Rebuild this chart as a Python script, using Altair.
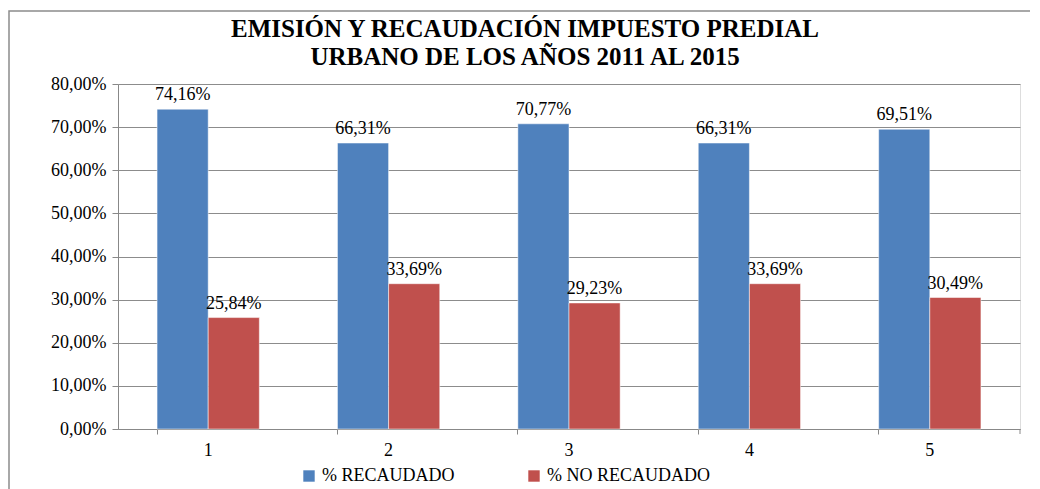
import altair as alt
import pandas as pd

categories = ["1", "2", "3", "4", "5"]
series = ["% RECAUDADO", "% NO RECAUDADO"]
recaudado = [74.16, 66.31, 70.77, 66.31, 69.51]
no_recaudado = [25.84, 33.69, 29.23, 33.69, 30.49]
colors = ["#4F81BD", "#C0504D"]
y_ticks = [0, 10, 20, 30, 40, 50, 60, 70, 80]
title_line1 = "EMISIÓN Y RECAUDACIÓN IMPUESTO PREDIAL"
title_line2 = "URBANO DE LOS AÑOS 2011 AL 2015"

rows = []
for i, c in enumerate(categories):
    for s, vals in zip(series, [recaudado, no_recaudado]):
        v = vals[i]
        rows.append({"cat": c, "serie": s, "val": v,
                     "lbl": f"{v:.2f}%".replace(".", ",")})
df = pd.DataFrame(rows)

FONT = "Liberation Serif, DejaVu Serif, serif"
W, H = 902, 345

xenc = alt.X("cat:N", sort=categories, title=None,
             scale=alt.Scale(paddingInner=0.433, paddingOuter=0.2165),
             axis=alt.Axis(labelAngle=0, labelFont=FONT, labelFontSize=18,
                           labelColor="#000", labelPadding=7, bandPosition=0,
                           tickColor="#888", tickSize=5, domainColor="#888",
                           grid=False))
xoff = alt.XOffset("serie:N", sort=series)
yenc = alt.Y("val:Q", title=None,
             scale=alt.Scale(domain=[0, 80], nice=False),
             axis=alt.Axis(values=y_ticks, labelFont=FONT, labelFontSize=18,
                           labelColor="#000", labelPadding=6,
                           labelExpr="replace(format(datum.value, '.2f'), '.', ',') + '%'",
                           tickColor="#888", tickSize=6, domainColor="#888",
                           gridColor="#8c8c8c", gridWidth=1))

bars = alt.Chart(df).mark_bar(stroke="white", strokeWidth=0.5).encode(
    x=xenc, xOffset=xoff, y=yenc,
    color=alt.Color("serie:N", sort=series,
                    scale=alt.Scale(domain=series, range=colors),
                    legend=alt.Legend(title=None, orient="none", direction="horizontal",
                                      legendX=182, legendY=383,
                                      labelFont=FONT, labelFontSize=18,
                                      labelColor="#000", symbolType="square",
                                      symbolSize=130, symbolStrokeWidth=0,
                                      columnPadding=70, labelLimit=300)),
)

labels = alt.Chart(df).mark_text(font=FONT, fontSize=18, baseline="alphabetic",
                                 dy=-9, color="#000").encode(
    x=xenc, xOffset=xoff, y=yenc, text="lbl:N")

one = pd.DataFrame({"v": [0]})

end_tick = alt.Chart(one).mark_rule(color="#888").encode(
    x=alt.value(W), y=alt.value(H), y2=alt.value(H + 5))

frame = alt.Chart(one).mark_rect(
    fill=None, stroke="#8c8c8c", strokeWidth=1.5).encode(
    x=alt.value(-109), x2=alt.value(930), y=alt.value(-73), y2=alt.value(412))

def title_text(txt, ypos):
    return alt.Chart(one).mark_text(
        text=txt, font=FONT, fontSize=25, fontWeight="bold",
        color="#000", align="center", baseline="alphabetic").encode(
        x=alt.value(407), y=alt.value(ypos))

t1 = title_text(title_line1, -47)
t2 = title_text(title_line2, -19)

chart = alt.layer(frame, bars, labels, end_tick, t1, t2).properties(
    width=W, height=H,
    autosize=alt.AutoSizeParams(type="none"),
    padding={"left": 110, "top": 76, "right": 10, "bottom": 60},
).configure_view(stroke=None).configure(background="white").configure_legend(
    labelFont=FONT)

chart.save("out.html", embed_options={"renderer": "svg", "actions": False})
